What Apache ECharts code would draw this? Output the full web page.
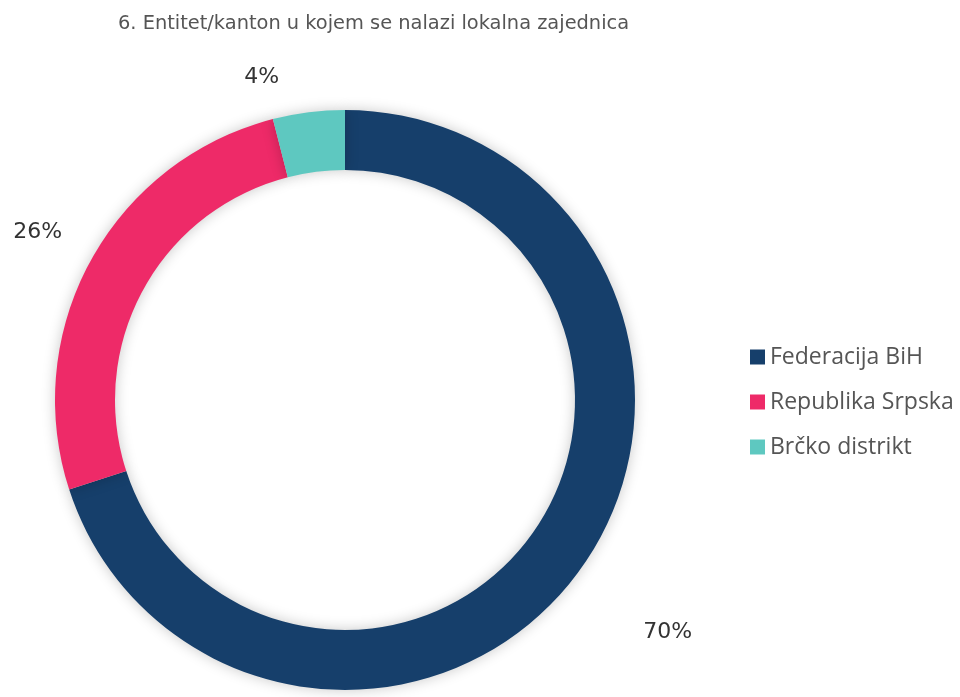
<!DOCTYPE html>
<html>
<head>
<meta charset="utf-8">
<script src="https://cdn.jsdelivr.net/npm/echarts@6/dist/echarts.min.js"></script>
<style>
  html, body { margin: 0; padding: 0; background: #ffffff; }
  #chart { width: 960px; height: 697px; }
</style>
</head>
<body>
<div id="chart"></div>
<script>
// Share of local communities by entity / district
const categories = ['Federacija BiH', 'Republika Srpska', 'Brčko distrikt'];
const values = [70, 26, 4];
const colors = ['#163f6b', '#ee2a68', '#5ec8c0'];
// Radial offset of each percentage label from the ring, and its horizontal nudge
const labelOffsets = [106, 59, 35];
const labelNudges = [-22, -23, 25];

const chart = echarts.init(document.getElementById('chart'));

chart.setOption({
  backgroundColor: '#ffffff',
  title: {
    text: '6. Entitet/kanton u kojem se nalazi lokalna zajednica',
    left: 113,
    top: 9,
    textStyle: {
      fontFamily: '"DejaVu Sans", sans-serif',
      fontSize: 19.4,
      fontWeight: 'normal',
      color: '#555555'
    }
  },
  legend: {
    orient: 'vertical',
    left: 745,
    top: 340,
    itemWidth: 15,
    itemHeight: 15,
    itemGap: 21,
    icon: 'rect',
    textStyle: {
      fontFamily: '"Open Sans", sans-serif',
      fontSize: 23,
      lineHeight: 24,
      color: '#555555'
    },
    data: categories
  },
  series: [{
    type: 'pie',
    center: [345, 400],
    radius: [230, 290],
    startAngle: 90,
    clockwise: true,
    avoidLabelOverlap: false,
    silent: true,
    itemStyle: {
      shadowBlur: 14,
      shadowColor: 'rgba(0,0,0,0.22)'
    },
    label: {
      show: true,
      position: 'outside',
      formatter: '{c}%',
      fontFamily: '"DejaVu Sans", sans-serif',
      fontSize: 22,
      color: '#333333'
    },
    labelLine: { show: false, length2: 0 },
    data: categories.map((name, i) => ({
      name: name,
      value: values[i],
      itemStyle: { color: colors[i] },
      label: { distanceToLabelLine: labelNudges[i] },
      labelLine: { show: false, length: labelOffsets[i], length2: 0 }
    }))
  }]
});
</script>
</body>
</html>
